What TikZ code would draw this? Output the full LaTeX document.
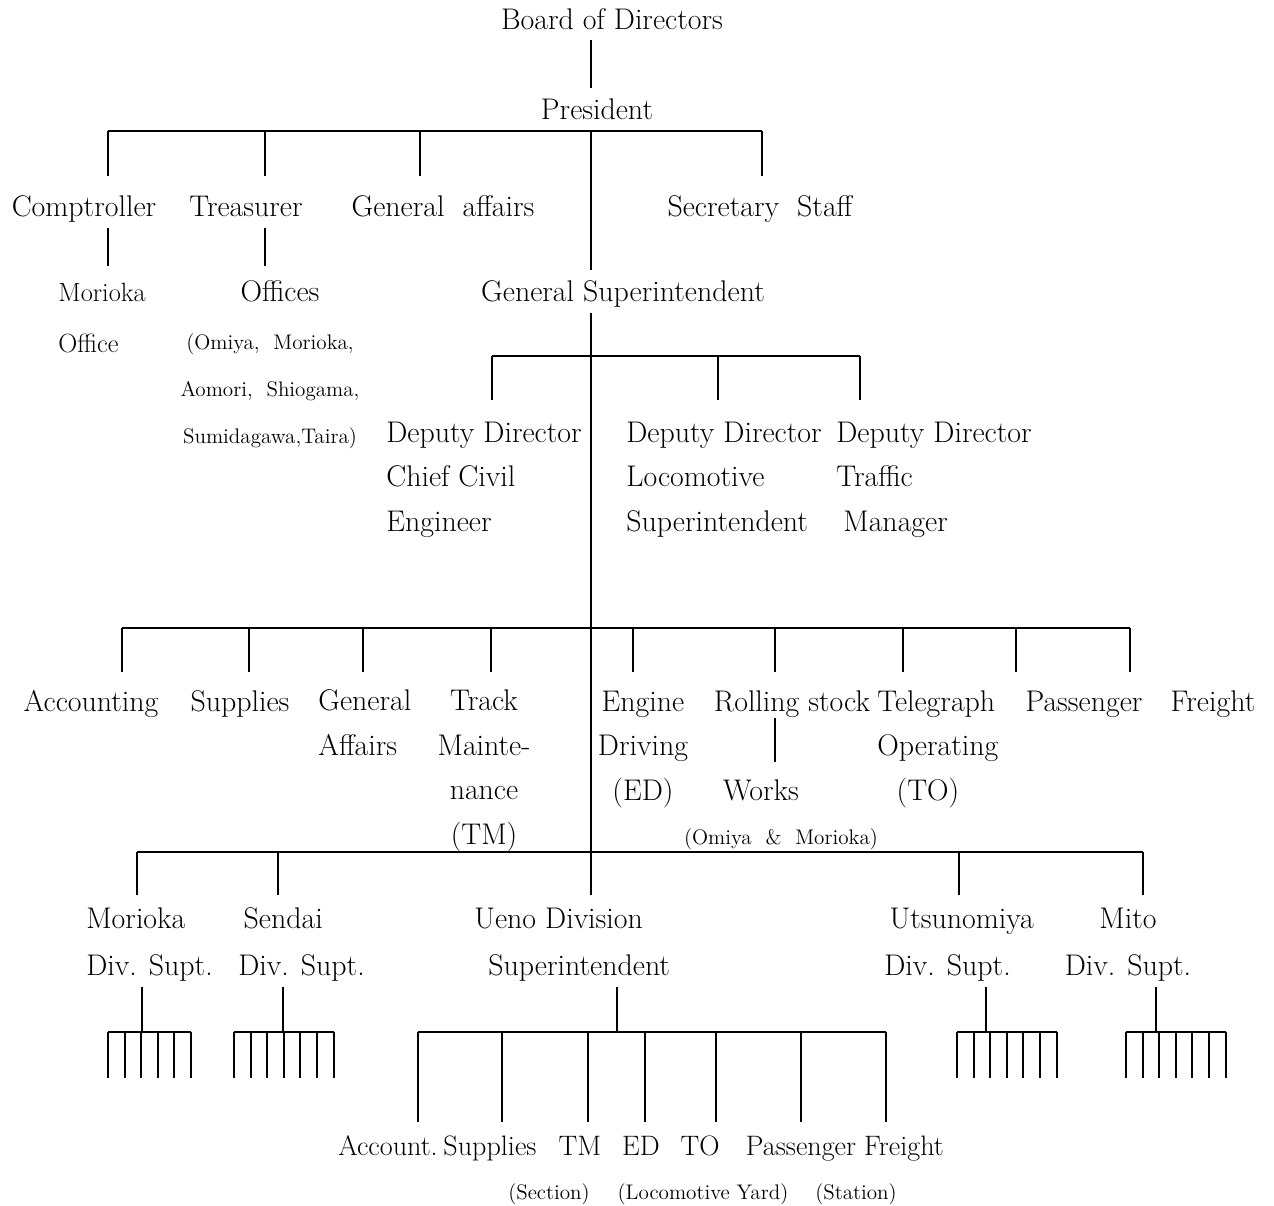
\documentclass[tikz,border=0pt]{standalone}
\usetikzlibrary{positioning}
\begin{document}
\begin{tikzpicture}[x=0.02cm,y=-0.02cm]
    \tikzset{post/.style = {inner sep=0pt,anchor=base,font=\fontsize{17}{25.3}\selectfont}}
    \tikzset{postl/.style = {post,align=left,anchor=base west}}
    \tikzset{postc/.style = {post,align=center}}
    \tikzset{mid/.style = {inner sep=0pt,anchor=base west,align=left,font=\fontsize{15}{29}\selectfont}}
    \tikzset{note/.style = {inner sep=0pt,anchor=base,align=center,font=\fontsize{12}{26.5}\selectfont}}
    \tikzset{wire/.style = {line width=1.1pt}}
    \useasboundingbox (0,0) rectangle (1274,1205);
    % head (multi-line nodes sit on their last line)
    \node[post] (bod)  at (612,29)  {Board of Directors};
    \node[post] (pres) at (597,119) {President};
    % staff
    \node[post] (comp)   at (84,216)  {Comptroller};
    \node[post] (treas)  at (246,216) {Treasurer};
    \node[post] (genaff) at (443,216) {General\ \ affairs};
    \node[post] (secr)   at (760,216) {Secretary\ \ Staff};
    \node[mid]  (morof)  at (58,352)  {Morioka\\Office};
    \node[post] (offs)   at (280,301) {Offices};
    \node[note] (offl)   at (270,443) {(Omiya,\ \ Morioka,\\Aomori,\ \ Shiogama,\\Sumidagawa,Taira)};
    \node[post] (gsup)   at (623,301) {General Superintendent};
    % deputy directors
    \node[postl] (ddce) at (386,531) {Deputy Director\\Chief Civil\\Engineer};
    \node[postl] (ddls) at (626,531) {Deputy Director\\Locomotive\\Superintendent};
    \node[postl] (ddtm) at (836,531) {Deputy Director\\Traffic\\\hspace*{4pt}Manager};
    % departments
    \node[post]  (acct)  at (91,711)   {Accounting};
    \node[post]  (supp)  at (240,711)  {Supplies};
    \node[postl] (gaff)  at (318,755)  {General\\Affairs};
    \node[postc] (track) at (484,844)  {Track\\Mainte-\\nance\\(TM)};
    \node[postc] (eng)   at (643,800)  {Engine\\Driving\\(ED)};
    \node[post]  (roll)  at (792,711)  {Rolling stock};
    \node[postl] (teleg) at (877,800)  {Telegraph\\Operating\\\hspace*{11pt}(TO)};
    \node[post]  (pass)  at (1084,711) {Passenger};
    \node[post]  (frt)   at (1213,711) {Freight};
    \node[post]  (works) at (761,800)  {Works};
    \node[note]  (omor)  at (781,844)  {(Omiya\ \ \&\ \ Morioka)};
    % divisions
    \tikzset{div/.style = {postl,font=\fontsize{17}{26.7}\selectfont}}
    \node[div] (mor)  at (86,975)  {Morioka\\Div. Supt.};
    \node[div] (send) at (238,975) {\hspace*{3pt}Sendai\\Div. Supt.};
    \node[div] (ueno) at (474,975) {Ueno Division\\\hspace*{8pt}Superintendent};
    \node[div] (utsu) at (884,975) {\hspace*{3pt}Utsunomiya\\Div. Supt.};
    \node[div,align=center,anchor=base] (mito) at (1128,975) {Mito\\Div. Supt.};
    % ueno sections
    \tikzset{sect/.style = {post,font=\fontsize{16}{20}\selectfont}}
    \node[sect] (acc2) at (388,1155) {Account.};
    \node[sect] (sup2) at (490,1155) {Supplies};
    \node[sect] (tm2)  at (580,1155) {TM};
    \node[sect] (ed2)  at (641,1155) {ED};
    \node[sect] (to2)  at (700,1155) {TO};
    \node[sect] (pas2) at (801,1155) {Passenger};
    \node[sect] (fre2) at (904,1155) {Freight};
    \node[note] (sec)  at (549,1199) {(Section)};
    \node[note] (yard) at (703,1199) {(Locomotive Yard)};
    \node[note] (stat) at (856,1199) {(Station)};
    % lines
    \coordinate (t0) at (591,40);
    \coordinate (t1) at (591,88);
    \draw[wire] (t0) -- (t1);
    \coordinate (b1l) at (108,131);
    \coordinate (b1r) at (762,131);
    \draw[wire] (b1l) -- (b1r);
    \foreach \x in {108,265,420,762} \draw[wire] (\x,131) -- ++(0,45);
    \draw[wire] (591,131) -- (591,270);
    \foreach \x in {108,265} \draw[wire] (\x,228) -- ++(0,38);
    % trunk
    \coordinate (t2) at (591,313);
    \coordinate (t3) at (591,895);
    \draw[wire] (t2) -- (t3);
    \draw[wire] (492,356) -- (860,356);
    \foreach \x in {492,718,860} \draw[wire] (\x,356) -- ++(0,44);
    \draw[wire] (122,628) -- (1130,628);
    \foreach \x in {122,249,363,491,633,775,903,1016,1130} \draw[wire] (\x,628) -- ++(0,44);
    \draw[wire] (775,718) -- (775,762);
    \draw[wire] (137,852) -- (1143,852);
    \foreach \x in {137,278,959,1143} \draw[wire] (\x,852) -- ++(0,43);
    % small offices
    \foreach \s/\l/\n in {142/108/5,283/234/6,986/957/6,1156/1126/6} {
        \draw[wire] (\s,987) -- (\s,1032);
        \draw[wire] (\l,1032) -- ({\l+16.6*\n},1032);
        \foreach \k in {0,...,\n} \draw[wire] ({\l+16.6*\k},1032) -- ++(0,46);
    }
    \draw[wire] (617,987) -- (617,1032);
    \draw[wire] (418,1032) -- (886,1032);
    \foreach \x in {418,502,588,645,716,801,886} \draw[wire] (\x,1032) -- ++(0,90);
\end{tikzpicture}
\end{document}
